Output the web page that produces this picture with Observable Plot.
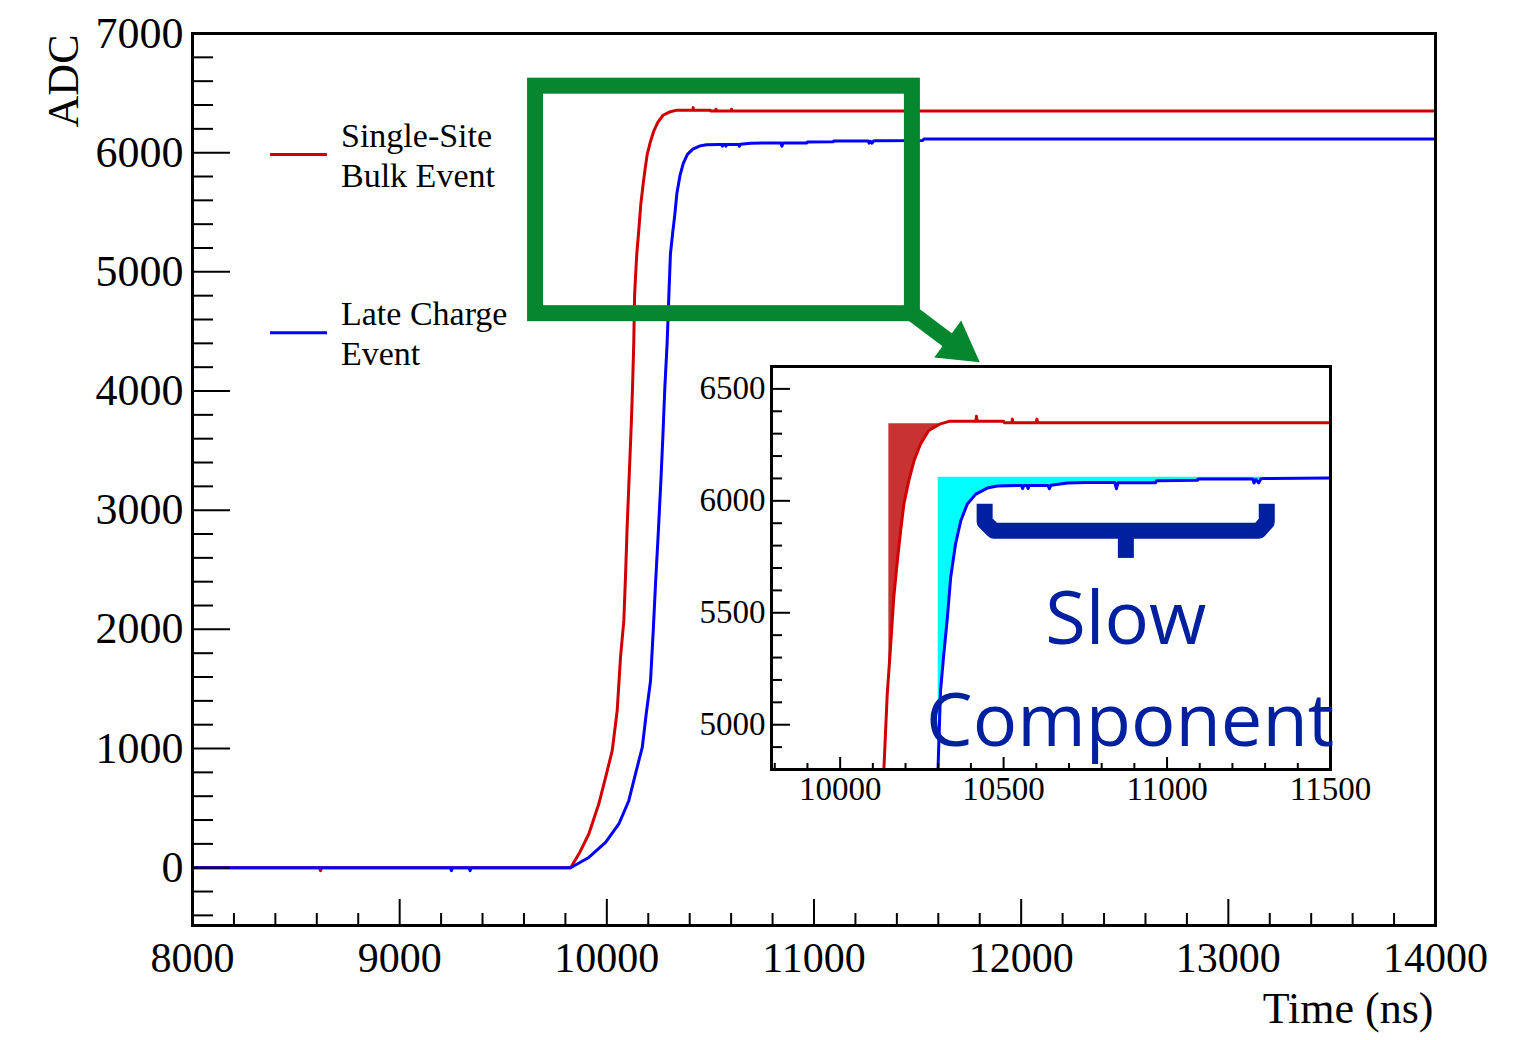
<!DOCTYPE html>
<html><head><meta charset="utf-8">
<script src="https://cdn.jsdelivr.net/npm/d3@7"></script>
<script src="https://cdn.jsdelivr.net/npm/@observablehq/plot@0.6"></script>
<style>
html,body{margin:0;padding:0;background:#fff;overflow:hidden}
#wrap{position:relative;width:1532px;height:1040px}
#wrap > svg{position:absolute}
</style></head><body><div id="wrap"></div>
<script>
// ---- data ----
const seriesNames = [["Single-Site", "Bulk Event"], ["Late Charge", "Event"]];
const seriesColors = ["#d00000", "#0000ff"];

const redT   = [8000, 8612, 8618, 8624, 9825, 9870, 9913, 9961, 9994, 10026, 10050, 10066, 10082, 10090, 10098, 10109, 10119, 10125, 10130, 10134, 10144, 10149, 10154, 10164, 10175, 10185, 10195, 10210, 10226, 10246, 10271, 10307, 10333, 10415, 10417, 10419, 10500, 10502, 10525, 10527, 10529, 10600, 10602, 10604, 14000];
const redADC = [0, 0, -25, 0, 0, 130, 283, 534, 758, 982, 1317, 1765, 2073, 2436, 2856, 3331, 3765, 4087, 4400, 4807, 5136, 5240, 5344, 5568, 5732, 5866, 5986, 6090, 6179, 6254, 6314, 6344, 6355, 6355, 6378, 6355, 6355, 6349, 6349, 6365, 6349, 6349, 6365, 6349, 6349];

const blueT   = [8000, 9245, 9250, 9255, 9335, 9340, 9345, 9825, 9913, 9994, 10058, 10106, 10138, 10171, 10190, 10211, 10224, 10235, 10248, 10261, 10271, 10280, 10291, 10300, 10307, 10317, 10328, 10338, 10353, 10369, 10389, 10415, 10450, 10481, 10540, 10555, 10558, 10562, 10572, 10575, 10578, 10636, 10640, 10645, 10695, 10750, 10840, 10845, 10850, 10965, 10968, 11093, 11095, 11262, 11266, 11272, 11280, 11287, 11296, 11525, 11530, 14000];
const blueADC = [0, 0, -25, 0, 0, -25, 0, 0, 86, 212, 367, 562, 786, 1009, 1290, 1569, 1989, 2381, 2800, 3247, 3639, 4030, 4400, 4830, 5150, 5314, 5478, 5657, 5807, 5911, 5986, 6030, 6057, 6066, 6068, 6068, 6055, 6068, 6068, 6055, 6068, 6068, 6054, 6070, 6080, 6082, 6082, 6054, 6081, 6081, 6090, 6092, 6098, 6098, 6080, 6095, 6080, 6098, 6100, 6102, 6115, 6115];

// shaded regions in the inset (start time, top level)
const redFillStart = 10149, redFillEnd = 10307, redFillTop = 6344;
const cyanFillStart = 10300, cyanFillEnd = 11500, cyanFillTop = 6105;

// axis ticks
const mainXMajor = d3.range(8000, 14001, 1000);
const mainXMinor = d3.range(8000, 14001, 200).filter(d => d % 1000 !== 0);
const mainYMajor = d3.range(0, 7001, 1000);
const mainYMinor = d3.range(-400, 7001, 200).filter(d => d % 1000 !== 0);
const insetXMajor = [10000, 10500, 11000, 11500];
const insetXMinor = d3.range(9800, 11501, 100).filter(d => d % 500 !== 0);
const insetYMajor = [5000, 5500, 6000, 6500];
const insetYMinor = d3.range(4800, 6601, 100).filter(d => d % 500 !== 0);

// annotations (main-chart coordinates)
const zoomBox = [{x1: 9656, x2: 11475, y1: 4649, y2: 6558}];
const arrowShaft = [{x1: 11475, y1: 4649, x2: 11650, y2: 4420}];
const arrowHead = [{x: 11697, y: 4372}];
// annotations (inset coordinates)
const braceArm = [[10442, 5987], [10442, 5906], [10470, 5866], [11281, 5866], [11305, 5906], [11305, 5987]];
const braceStem = [[10874, 5866], [10874, 5745]];
const slowLabels = [{t: 10874, v: 5468, text: "Slow"}, {t: 10887, v: 5012, text: "Component"}];

const green = "#04872e", navy = "#00209f";
const red = redT.map((t, i) => ({t, v: redADC[i]}));
const blue = blueT.map((t, i) => ({t, v: blueADC[i]}));
const redFill = red.filter(d => d.t >= redFillStart && d.t <= redFillEnd);
const cyanFill = blue.filter(d => d.t >= cyanFillStart && d.t <= cyanFillEnd);

const W = 1532, H = 1040;
const M = {top: 33, right: 97, bottom: 115, left: 192};
const iw = W - M.left - M.right, ih = H - M.top - M.bottom;
const serif = "Liberation Serif";

const main = Plot.plot({
  width: W, height: H,
  marginTop: M.top, marginRight: M.right, marginBottom: M.bottom, marginLeft: M.left,
  x: {domain: [8000, 14000]}, y: {domain: [-485, 7000]},
  style: {fontFamily: serif, fontSize: "44px", color: "black", background: "transparent", overflow: "visible"},
  marks: [
    Plot.line(red, {x: "t", y: "v", stroke: seriesColors[0], strokeWidth: 3}),
    Plot.line(blue, {x: "t", y: "v", stroke: seriesColors[1], strokeWidth: 3}),
    Plot.ruleY(mainYMinor, {y: d => d, insetRight: iw - 21, stroke: "black", strokeWidth: 2}),
    Plot.ruleY(mainYMajor, {y: d => d, insetRight: iw - 38, stroke: "black", strokeWidth: 2}),
    Plot.ruleX(mainXMinor, {x: d => d, insetTop: ih - 12, stroke: "black", strokeWidth: 2}),
    Plot.ruleX(mainXMajor, {x: d => d, insetTop: ih - 26, stroke: "black", strokeWidth: 2}),
    Plot.frame({stroke: "black", strokeWidth: 3}),
    Plot.axisY(mainYMajor, {tickSize: 0, tickPadding: 9, tickFormat: d => String(d), label: null, fontSize: 44, fontFamily: serif}),
    Plot.axisX(mainXMajor, {tickSize: 0, tickPadding: 17, tickFormat: d => String(d), label: null, fontSize: 42, fontFamily: serif}),
    Plot.text(["ADC"], {text: d => d, frameAnchor: "top-left", rotate: -90, textAnchor: "end", dx: -146, dy: 1, fontSize: 44, fontFamily: serif}),
    Plot.text(["Time (ns)"], {text: d => d, frameAnchor: "bottom-right", textAnchor: "end", dx: -2, dy: 97, fontSize: 44, fontFamily: serif}),
    Plot.rect(zoomBox, {x1: "x1", x2: "x2", y1: "y1", y2: "y2", fill: "none", stroke: green, strokeWidth: 16}),
    Plot.link(arrowShaft, {x1: "x1", y1: "y1", x2: "x2", y2: "y2", stroke: green, strokeWidth: 16, strokeLinecap: "butt"}),
    Plot.dot(arrowHead, {x: "x", y: "y", symbol: "triangle", r: 17, rotate: 126, fill: green, stroke: "none"})
  ]
});
main.style.left = "0px"; main.style.top = "0px";

// legend
const legend = d3.create("svg").attr("width", 600).attr("height", 400)
  .style("left", "0px").style("top", "0px").style("position", "absolute");
const legY = [154.5, 332.7];
seriesNames.forEach((lines, i) => {
  legend.append("line").attr("x1", 270).attr("x2", 327).attr("y1", legY[i]).attr("y2", legY[i])
    .attr("stroke", seriesColors[i]).attr("stroke-width", 3);
  lines.forEach((s, j) => {
    legend.append("text").attr("x", 341).attr("y", legY[i] - 8 + j * 40.5)
      .attr("font-family", serif).attr("font-size", 34).attr("fill", "black").text(s);
  });
});

const IM = {left: 91, right: 50, top: 16, bottom: 51};
const IW = 700, IH = 470;
const iiw = IW - IM.left - IM.right, iih = IH - IM.top - IM.bottom;
const inset = Plot.plot({
  width: IW, height: IH,
  marginTop: IM.top, marginRight: IM.right, marginBottom: IM.bottom, marginLeft: IM.left,
  x: {domain: [9790, 11500]}, y: {domain: [4800, 6600]},
  style: {fontFamily: serif, fontSize: "33px", color: "black", background: "transparent", overflow: "visible"},
  marks: [
    Plot.frame({fill: "white", stroke: "none"}),
    Plot.areaY(redFill, {x: "t", y1: "v", y2: d => redFillTop, fill: "#c83232", clip: true}),
    Plot.areaY(cyanFill, {x: "t", y1: "v", y2: d => cyanFillTop, fill: "#00ffff", clip: true}),
    Plot.line(red, {x: "t", y: "v", stroke: seriesColors[0], strokeWidth: 3, clip: true}),
    Plot.line(blue, {x: "t", y: "v", stroke: seriesColors[1], strokeWidth: 3, clip: true}),
    Plot.ruleY(insetYMinor, {y: d => d, insetRight: iiw - 11, stroke: "black", strokeWidth: 2}),
    Plot.ruleY(insetYMajor, {y: d => d, insetRight: iiw - 19, stroke: "black", strokeWidth: 2}),
    Plot.ruleX(insetXMinor, {x: d => d, insetTop: iih - 6, stroke: "black", strokeWidth: 2}),
    Plot.ruleX(insetXMajor, {x: d => d, insetTop: iih - 12, stroke: "black", strokeWidth: 2}),
    Plot.frame({stroke: "black", strokeWidth: 3}),
    Plot.axisY(insetYMajor, {tickSize: 0, tickPadding: 6, tickFormat: d => String(d), label: null, fontSize: 33, fontFamily: serif}),
    Plot.axisX(insetXMajor, {tickSize: 0, tickPadding: 7, tickFormat: d => String(d), label: null, fontSize: 33, fontFamily: serif}),
    Plot.line(braceArm, {x: d => d[0], y: d => d[1], stroke: navy, strokeWidth: 16, strokeLinejoin: "round", strokeLinecap: "butt"}),
    Plot.line(braceStem, {x: d => d[0], y: d => d[1], stroke: navy, strokeWidth: 16, strokeLinecap: "butt"}),
    Plot.text(slowLabels, {x: "t", y: "v", text: "text", fill: navy, fontSize: 74, fontFamily: "Open Sans"})
  ]
});
inset.style.left = "680px"; inset.style.top = "350px";

const wrap = document.getElementById("wrap");
wrap.appendChild(main);
wrap.appendChild(legend.node());
wrap.appendChild(inset);
</script></body></html>
